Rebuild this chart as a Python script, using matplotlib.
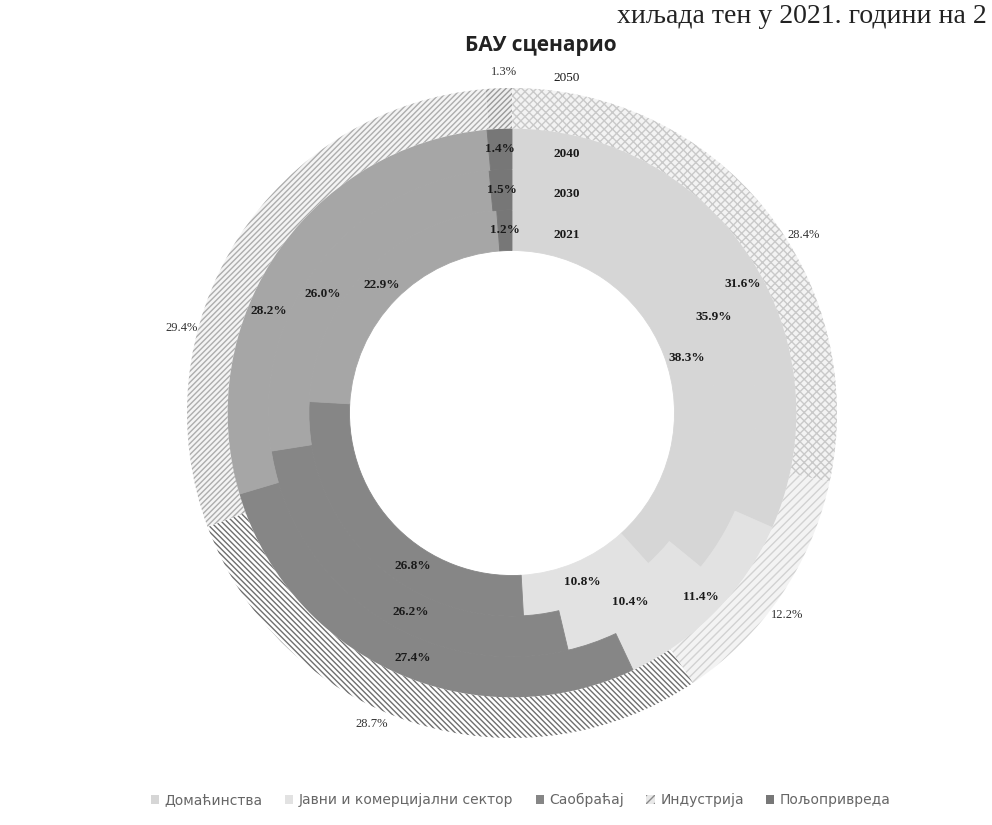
import numpy as np
import matplotlib
matplotlib.use('Agg')
import matplotlib.pyplot as plt
from matplotlib.patches import Patch

years = ['2021', '2030', '2040', '2050']
sectors = ['Домаћинства', 'Јавни и комерцијални сектор', 'Саобраћај', 'Индустрија', 'Пољопривреда']

domacinstva = [38.3, 35.9, 31.6, 28.4]
javni = [10.8, 10.4, 11.4, 12.2]
saobracaj = [26.8, 26.2, 27.4, 28.7]
industrija = [22.9, 26.0, 28.2, 29.4]
poljoprivreda = [1.2, 1.5, 1.4, 1.3]

colors = ['#d6d6d6', '#e2e2e2', '#868686', '#a6a6a6', '#777777']
outer_face = ['#f3f3f3', '#f3f3f3', '#ffffff', '#f4f4f4', '#eeeeee']
outer_hatch = ['xxxx', '////', '\\\\\\\\\\\\', '//////', '//////']
outer_hatch_col = ['#c9c9c9', '#d2d2d2', '#6e6e6e', '#adadad', '#9a9a9a']

# small angular nudges (degrees, clockwise) of data labels, as placed in the original
label_nudge = {(0, 0): 3.5, (0, 2): 4, (2, 0): -12, (2, 1): -7, (2, 2): -2,
               (3, 1): -5.5, (3, 2): -11.5,
               (0, 3): 7.5, (1, 3): 2, (2, 3): 6.5, (3, 3): -18, (4, 3): 1}

plt.rcParams['hatch.linewidth'] = 1.0

data = np.array([domacinstva, javni, saobracaj, industrija, poljoprivreda])

fig = plt.figure(figsize=(9.92, 8.25), dpi=100)
ax = fig.add_axes([122 / 992, 22 / 825, 780 / 992, 780 / 825])

ring_w = 0.125
serif = 'Liberation Serif'
for i, year in enumerate(years):
    r = 0.5 + ring_w * (i + 1)
    wedges, _ = ax.pie(data[:, i], radius=r, startangle=90, counterclock=False,
                       colors=colors, wedgeprops=dict(width=ring_w, linewidth=0.6))
    for j, w in enumerate(wedges):
        mid = (w.theta1 + w.theta2) / 2 - label_nudge.get((j, i), 0)
        mid = np.deg2rad(mid)
        if i < 3:
            w.set_edgecolor(colors[j])
            lr = r - ring_w / 2
            ax.text(lr * np.cos(mid), lr * np.sin(mid), f'{data[j, i]:.1f}%',
                    ha='center', va='center', fontsize=9.5, fontweight='bold',
                    family=serif, color='#1a1a1a')
        else:
            w.set_facecolor(outer_face[j])
            w.set_edgecolor(outer_hatch_col[j])
            w.set_hatch(outer_hatch[j])
            w.set_linewidth(0)
            lr = 1.05
            ax.text(lr * np.cos(mid), lr * np.sin(mid), f'{data[j, i]:.1f}%',
                    ha='center', va='center', fontsize=9, family=serif,
                    color='#333333')
    # year label beside the agriculture slice
    yr = r - ring_w / 2 - 0.015 if i < 3 else 1.03
    ax.text(0.168, yr, year, ha='center', va='center', fontsize=9.5,
            fontweight='bold' if i < 3 else 'normal', family=serif, color='#1a1a1a')

ax.set_xlim(-1.2, 1.2)
ax.set_ylim(-1.2, 1.2)
ax.set_aspect('equal')
ax.axis('off')

fig.text(0.545, 1 - 45 / 825, 'БАУ сценарио', ha='center', va='center',
         fontsize=15, fontweight='bold', family='Open Sans', color='#222222')

# line of the surrounding document text, visible at the top of the scan
fig.text(0.995, 1 - 23 / 825, 'хиљада тен у 2021. години на 2', ha='right',
         va='baseline', family=serif, fontsize=20, color='#222222')

handles = []
for j, s in enumerate(sectors):
    if j == 3:
        handles.append(Patch(facecolor='#e8e8e8', edgecolor='#8a8a8a', hatch='////',
                             linewidth=0, label=s))
    else:
        handles.append(Patch(facecolor=colors[j], label=s))
fig.legend(handles=handles, loc='center', bbox_to_anchor=(0.525, 1 - 800 / 825),
           ncol=5, frameon=False, handlelength=0.6, handleheight=0.6,
           columnspacing=1.6, handletextpad=0.4, labelcolor='#666666',
           prop={'family': 'DejaVu Sans', 'size': 10})

fig.savefig('out.png', dpi=100, facecolor='white')
